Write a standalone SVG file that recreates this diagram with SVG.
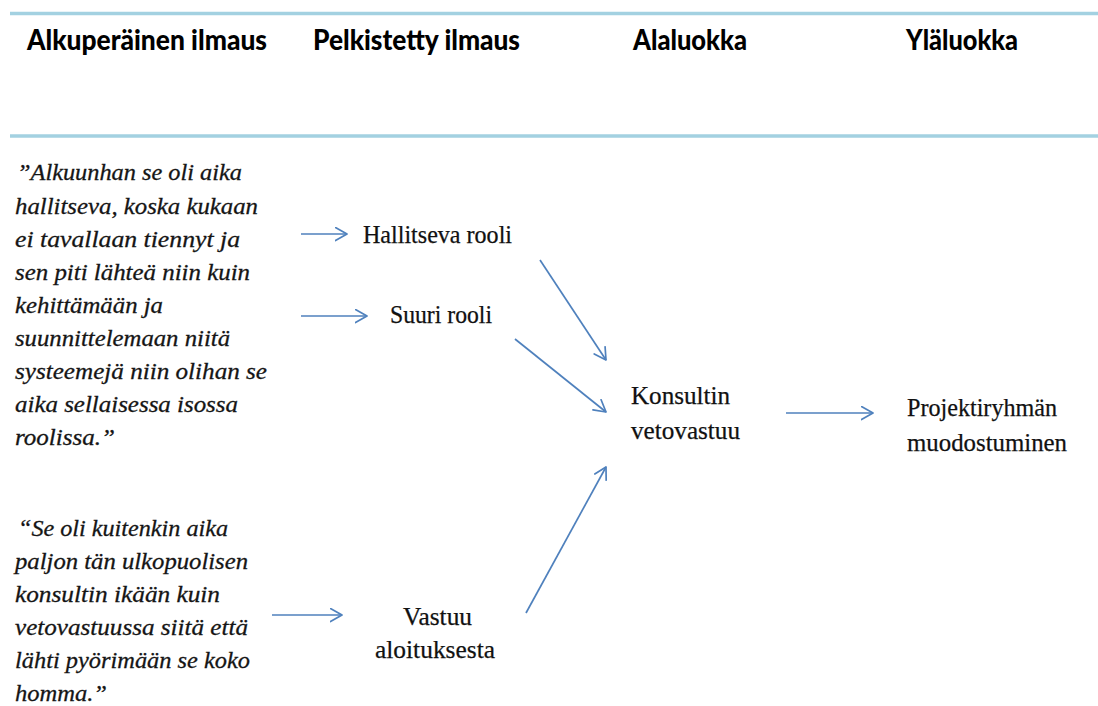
<svg xmlns="http://www.w3.org/2000/svg" width="1098" height="706" viewBox="0 0 1098 706">
  <style>
    .rule { stroke: #a3d1e1; stroke-width: 3.5; fill: none; }
    .head { font-family: Lato, "Liberation Sans", sans-serif; font-weight: 900; font-size: 28px; fill: #000; }
    .quote { font-family: "Liberation Serif", serif; font-style: italic; font-size: 24px; fill: #151515; stroke: #151515; stroke-width: 0.3; }
    .label { font-family: "Liberation Serif", serif; font-size: 25px; fill: #111; stroke: #111; stroke-width: 0.25; }
    .conn { stroke: #4f81bd; stroke-width: 1.7; fill: none; marker-end: url(#open); }
  </style>
  <defs>
    <marker id="open" markerUnits="userSpaceOnUse" markerWidth="16" markerHeight="16" refX="12.5" refY="7.5" orient="auto">
      <path d="M1,1 L12.5,7.5 L1,14" fill="none" stroke="#4f81bd" stroke-width="1.7" stroke-linecap="round" stroke-linejoin="round"/>
    </marker>
  </defs>

  <!-- table header rules -->
  <line class="rule" x1="10" y1="13.5" x2="1098" y2="13.5"/>
  <line class="rule" x1="10" y1="136" x2="1098" y2="136"/>

  <!-- column headings -->
  <g id="headings">
    <text class="head" x="27" y="50" textLength="240" lengthAdjust="spacingAndGlyphs">Alkuperäinen ilmaus</text>
    <text class="head" x="313" y="50" textLength="207" lengthAdjust="spacingAndGlyphs">Pelkistetty ilmaus</text>
    <text class="head" x="633" y="50" textLength="114" lengthAdjust="spacingAndGlyphs">Alaluokka</text>
    <text class="head" x="906" y="50" textLength="112" lengthAdjust="spacingAndGlyphs">Yläluokka</text>
  </g>

  <!-- original quotes -->
  <g id="quote-1">
    <text class="quote" x="17" y="180" textLength="225" lengthAdjust="spacingAndGlyphs">”Alkuunhan se oli aika</text>
    <text class="quote" x="15" y="214" textLength="243" lengthAdjust="spacingAndGlyphs">hallitseva, koska kukaan</text>
    <text class="quote" x="15" y="247" textLength="225" lengthAdjust="spacingAndGlyphs">ei tavallaan  tiennyt ja</text>
    <text class="quote" x="15" y="280" textLength="235" lengthAdjust="spacingAndGlyphs">sen piti lähteä niin kuin</text>
    <text class="quote" x="15" y="313" textLength="148" lengthAdjust="spacingAndGlyphs">kehittämään ja</text>
    <text class="quote" x="15" y="346" textLength="215" lengthAdjust="spacingAndGlyphs">suunnittelemaan niitä</text>
    <text class="quote" x="15" y="379" textLength="252" lengthAdjust="spacingAndGlyphs">systeemejä niin olihan se</text>
    <text class="quote" x="15" y="412" textLength="223" lengthAdjust="spacingAndGlyphs">aika sellaisessa isossa</text>
    <text class="quote" x="15" y="445" textLength="100" lengthAdjust="spacingAndGlyphs">roolissa.”</text>
  </g>

  <g id="quote-2">
    <text class="quote" x="18" y="536" textLength="210" lengthAdjust="spacingAndGlyphs">“Se oli kuitenkin aika</text>
    <text class="quote" x="15" y="569" textLength="233" lengthAdjust="spacingAndGlyphs">paljon tän ulkopuolisen</text>
    <text class="quote" x="15" y="602" textLength="205" lengthAdjust="spacingAndGlyphs">konsultin ikään kuin</text>
    <text class="quote" x="15" y="635" textLength="233" lengthAdjust="spacingAndGlyphs">vetovastuussa siitä että</text>
    <text class="quote" x="15" y="668" textLength="235" lengthAdjust="spacingAndGlyphs">lähti pyörimään se koko</text>
    <text class="quote" x="15" y="701" textLength="92" lengthAdjust="spacingAndGlyphs">homma.”</text>
  </g>

  <!-- reduced expressions -->
  <g id="hallitseva-rooli">
    <text class="label" x="363" y="243" textLength="149" lengthAdjust="spacingAndGlyphs">Hallitseva rooli</text>
  </g>
  <g id="suuri-rooli">
    <text class="label" x="390" y="323" textLength="102" lengthAdjust="spacingAndGlyphs">Suuri rooli</text>
  </g>
  <g id="vastuu-aloituksesta">
    <text class="label" x="403" y="625" textLength="69" lengthAdjust="spacingAndGlyphs">Vastuu</text>
    <text class="label" x="375" y="658" textLength="120" lengthAdjust="spacingAndGlyphs">aloituksesta</text>
  </g>

  <!-- subcategory -->
  <g id="konsultin-vetovastuu">
    <text class="label" x="631" y="404" textLength="99" lengthAdjust="spacingAndGlyphs">Konsultin</text>
    <text class="label" x="631" y="439" textLength="109" lengthAdjust="spacingAndGlyphs">vetovastuu</text>
  </g>

  <!-- main category -->
  <g id="projektiryhman-muodostuminen">
    <text class="label" x="907" y="416" textLength="150" lengthAdjust="spacingAndGlyphs">Projektiryhmän</text>
    <text class="label" x="907" y="451" textLength="160" lengthAdjust="spacingAndGlyphs">muodostuminen</text>
  </g>

  <g id="connectors">
    <line class="conn" x1="301" y1="234" x2="347" y2="234"/>
    <line class="conn" x1="301" y1="316" x2="367" y2="316"/>
    <line class="conn" x1="272" y1="615" x2="342" y2="615"/>
    <line class="conn" x1="540" y1="260" x2="606" y2="360"/>
    <line class="conn" x1="515" y1="339" x2="606" y2="412"/>
    <line class="conn" x1="526" y1="613" x2="606" y2="467"/>
    <line class="conn" x1="786" y1="413" x2="873" y2="413"/>
  </g>
</svg>
